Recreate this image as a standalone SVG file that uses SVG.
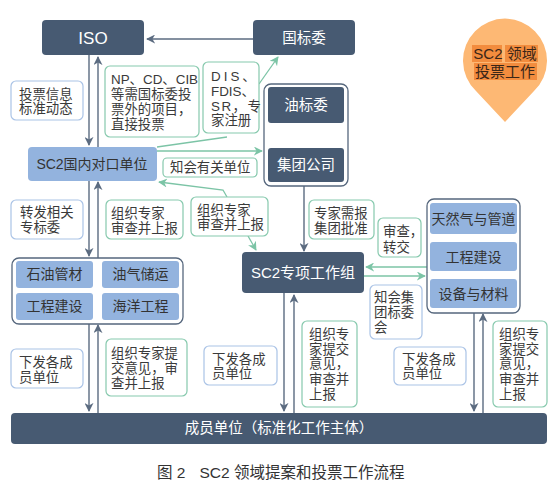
<svg xmlns="http://www.w3.org/2000/svg" width="553" height="494" viewBox="0 0 553 494">
<defs>
<style>
.dark{fill:#475a72}
.light{fill:#93b3de}
.frame{fill:#fff;stroke:#56677d;stroke-width:1.3}
.lg{fill:#fff;stroke:#86c9ad;stroke-width:1.2}
.lb{fill:#fff;stroke:#aac3e6;stroke-width:1.2}
.t{font-family:"Liberation Sans","Noto Sans CJK SC",sans-serif;font-size:13.4px;fill:#3a3a3a}
.w{font-family:"Liberation Sans","Noto Sans CJK SC",sans-serif;fill:#fff;text-anchor:middle}
.d{font-family:"Liberation Sans","Noto Sans CJK SC",sans-serif;fill:#333;text-anchor:middle;font-size:14px}
.ga{fill:none;stroke:#7cc4a6;stroke-width:1.3}
.va{fill:none;stroke:#5b6b80;stroke-width:1.4}
</style>
<marker id="ag" viewBox="0 0 10 10" refX="9" refY="5" markerWidth="9" markerHeight="9" markerUnits="userSpaceOnUse" orient="auto">
<path d="M0,0 L10,5 L0,10 L3,5 z" fill="#7cc4a6"/>
</marker>
<marker id="av" viewBox="0 0 10 10" refX="9" refY="5" markerWidth="9" markerHeight="9" markerUnits="userSpaceOnUse" orient="auto">
<path d="M0,0 L10,5 L0,10 L3,5 z" fill="#5b6b80"/>
</marker>
</defs>
<rect width="553" height="494" fill="#fff"/>

<g id="connectors">
<path class="va" d="M253,39 H147" marker-end="url(#av)"/>
<path class="va" d="M89,55 V145" marker-end="url(#av)"/>
<path class="va" d="M98,147 V57" marker-end="url(#av)"/>
<path class="ga" d="M157,147 L227,137"/>
<path class="ga" d="M259,84 L278,57" marker-end="url(#ag)"/>
<path class="ga" d="M157,151 H262" marker-end="url(#ag)"/>
<path class="va" d="M89,181 V256" marker-end="url(#av)"/>
<path class="va" d="M98,258 V182" marker-end="url(#av)"/>
<path class="ga" d="M227,197 L223,190 L159,182" marker-end="url(#ag)"/>
<path class="ga" d="M248,236 L256,250" marker-end="url(#ag)"/>
<path class="va" d="M304,186 V251" marker-end="url(#av)"/>
<path class="ga" d="M427,267 H366" marker-end="url(#ag)"/>
<path class="ga" d="M364,276 H425" marker-end="url(#ag)"/>
<path class="va" d="M89,324 V411" marker-end="url(#av)"/>
<path class="va" d="M98,413 V325" marker-end="url(#av)"/>
<path class="va" d="M284,293 V411" marker-end="url(#av)"/>
<path class="va" d="M294,413 V295" marker-end="url(#av)"/>
<path class="va" d="M474,313 V411" marker-end="url(#av)"/>
<path class="va" d="M483,413 V314" marker-end="url(#av)"/>
</g>

<g id="iso"><rect class="dark" x="42" y="20" width="102" height="35" rx="4"/><text class="w" x="93" y="44" font-size="17">ISO</text></g>
<g id="guobiaowei"><rect class="dark" x="253" y="20" width="102" height="35" rx="4"/><text class="w" x="304" y="43" font-size="14.5">国标委</text></g>

<g id="group-top-right">
<rect class="frame" x="264" y="84" width="84" height="102" rx="7"/>
<g id="youbiaowei"><rect class="dark" x="268" y="87" width="76" height="36" rx="3"/><text class="w" x="306" y="110" font-size="14.5">油标委</text></g>
<g id="jituan"><rect class="dark" x="268" y="148" width="76" height="34" rx="3"/><text class="w" x="306" y="170" font-size="14.5">集团公司</text></g>
</g>

<g id="sc2-domestic"><rect class="light" x="28" y="147" width="129" height="34" rx="4"/><text class="d" x="92" y="169" font-size="14.5">SC2国内对口单位</text></g>

<g id="group-left">
<rect class="frame" x="12" y="258" width="171" height="66" rx="7"/>
<g id="n-shiyou"><rect class="light" x="16" y="261" width="77" height="27" rx="3"/><text class="d" x="54.5" y="279">石油管材</text></g>
<g id="n-youqi"><rect class="light" x="102" y="261" width="77" height="27" rx="3"/><text class="d" x="140.5" y="279">油气储运</text></g>
<g id="n-gongcheng1"><rect class="light" x="16" y="293" width="77" height="27" rx="3"/><text class="d" x="54.5" y="311">工程建设</text></g>
<g id="n-haiyang"><rect class="light" x="102" y="293" width="77" height="27" rx="3"/><text class="d" x="140.5" y="311">海洋工程</text></g>
</g>

<g id="sc2-special"><rect class="dark" x="242" y="252" width="122" height="41" rx="4"/><text class="w" x="303" y="278" font-size="15">SC2专项工作组</text></g>

<g id="group-right">
<rect class="frame" x="427" y="199" width="93" height="114" rx="7"/>
<g id="n-tianranqi"><rect class="light" x="430" y="203" width="87" height="31" rx="3"/><text class="d" x="473.5" y="223.5">天然气与管道</text></g>
<g id="n-gongcheng2"><rect class="light" x="430" y="242" width="87" height="29" rx="3"/><text class="d" x="473.5" y="261.5">工程建设</text></g>
<g id="n-shebei"><rect class="light" x="430" y="279" width="87" height="29" rx="3"/><text class="d" x="473.5" y="298.5">设备与材料</text></g>
</g>

<g id="members"><rect class="dark" x="11" y="413" width="536" height="31" rx="4"/><text class="w" x="279" y="433" font-size="14.5">成员单位（标准化工作主体）</text></g>

<g id="pin">
<path d="M505,122 L476,91 A42,42 0 1 1 534,91 Z" fill="#fdb874"/>
<rect x="472" y="45" width="30" height="17" fill="#f28c3e"/>
<rect x="505" y="45" width="33" height="17" fill="#f28c3e"/>
<rect x="474" y="63" width="63" height="17" fill="#f28c3e"/>
<text x="505" y="59" text-anchor="middle" font-family="Liberation Sans,Noto Sans CJK SC,sans-serif" font-size="15" fill="#3a2618">SC2 领域</text>
<text x="505" y="77" text-anchor="middle" font-family="Liberation Sans,Noto Sans CJK SC,sans-serif" font-size="15" fill="#3a2618">投票工作</text>
</g>

<g id="labels">
<rect class="lb" x="11" y="81" width="72" height="39" rx="5"/>
<text class="t" x="19" y="98.5">投票信息<tspan x="19" y="113">标准动态</tspan></text>
<rect class="lg" x="105" y="66" width="94" height="71" rx="5"/>
<text class="t" x="111" y="84" font-size="13.8">NP、CD、CIB<tspan x="111" y="99">等需国标委投</tspan><tspan x="111" y="114">票外的项目，</tspan><tspan x="111" y="129">直接投票</tspan></text>
<rect class="lg" x="203" y="62" width="56" height="71" rx="5"/>
<text class="t" x="211" y="81" font-size="13.8"><tspan letter-spacing="3">DIS</tspan>、<tspan x="211" y="96">FDIS、</tspan><tspan x="211" y="111" letter-spacing="1.5">SR，专</tspan><tspan x="211" y="125">家注册</tspan></text>
<rect class="lg" x="163" y="158" width="94" height="19" rx="4"/>
<text class="t" x="170" y="172" font-size="13.7">知会有关单位</text>
<rect class="lb" x="11" y="200" width="72" height="39" rx="5"/>
<text class="t" x="20" y="217">转发相关<tspan x="20" y="232">专标委</tspan></text>
<rect class="lg" x="106" y="200" width="77" height="39" rx="5"/>
<text class="t" x="111" y="217.5">组织专家<tspan x="111" y="232.5">审查并上报</tspan></text>
<rect class="lg" x="191" y="197" width="77" height="39" rx="5"/>
<text class="t" x="197" y="214.5">组织专家<tspan x="197" y="229">审查并上报</tspan></text>
<rect class="lg" x="309" y="200" width="65" height="39" rx="5"/>
<text class="t" x="314" y="217.5">专家需报<tspan x="314" y="232.5">集团批准</tspan></text>
<rect class="lg" x="378" y="218" width="43" height="39" rx="5"/>
<text class="t" x="383" y="235.5">审查，<tspan x="383" y="251.5">转交</tspan></text>
<rect class="lb" x="370" y="285" width="52" height="54" rx="5"/>
<text class="t" x="374" y="301.5">知会集<tspan x="374" y="316.5">团标委</tspan><tspan x="374" y="332">会</tspan></text>
<rect class="lb" x="11" y="349" width="72" height="39" rx="5"/>
<text class="t" x="19" y="366.5">下发各成<tspan x="19" y="381.5">员单位</tspan></text>
<rect class="lg" x="106" y="339" width="81" height="57" rx="5"/>
<text class="t" x="111" y="357.5">组织专家提<tspan x="111" y="373">交意见，审</tspan><tspan x="111" y="388">查并上报</tspan></text>
<rect class="lb" x="204" y="346" width="73" height="39" rx="5"/>
<text class="t" x="212" y="363.5">下发各成<tspan x="212" y="378">员单位</tspan></text>
<rect class="lg" x="302" y="321" width="55" height="86" rx="5"/>
<text class="t" x="309" y="338.5">组织专<tspan x="309" y="353.5">家提交</tspan><tspan x="309" y="368">意见，</tspan><tspan x="309" y="383.5">审查并</tspan><tspan x="309" y="398.5">上报</tspan></text>
<rect class="lb" x="394" y="347" width="72" height="38" rx="5"/>
<text class="t" x="402" y="363.5">下发各成<tspan x="402" y="378">员单位</tspan></text>
<rect class="lg" x="493" y="321" width="54" height="86" rx="5"/>
<text class="t" x="499" y="338.5">组织专<tspan x="499" y="353.5">家提交</tspan><tspan x="499" y="368">意见，</tspan><tspan x="499" y="383.5">审查并</tspan><tspan x="499" y="398.5">上报</tspan></text>
</g>

<text x="157" y="478" font-family="Liberation Sans,Noto Sans CJK SC,sans-serif" font-size="15.5" fill="#333">图 2<tspan dx="14">SC2 领域提案和投票工作流程</tspan></text>
</svg>
